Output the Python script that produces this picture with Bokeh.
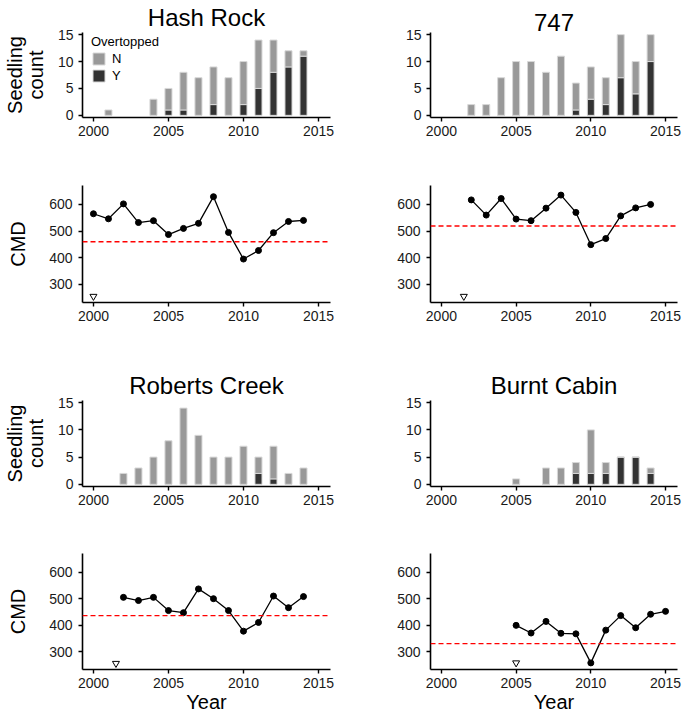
from bokeh.plotting import figure
from bokeh.layouts import column, row
from bokeh.models import Range1d, FixedTicker, Span, Legend, LegendItem, ColumnDataSource
from bokeh.embed import file_html
from bokeh.resources import INLINE

FONT = "Liberation Sans"

# ---------------- data ----------------
sites = ["Hash Rock", "747", "Roberts Creek", "Burnt Cabin"]

# seedling counts by year: N = not overtopped, Y = overtopped
hr_years = [2001, 2004, 2005, 2006, 2007, 2008, 2009, 2010, 2011, 2012, 2013, 2014]
hr_N = [1, 3, 4, 7, 7, 7, 7, 8, 9, 6, 3, 1]
hr_Y = [0, 0, 1, 1, 0, 2, 0, 2, 5, 8, 9, 11]

s747_years = [2002, 2003, 2004, 2005, 2006, 2007, 2008, 2009, 2010, 2011, 2012, 2013, 2014]
s747_N = [2, 2, 7, 10, 10, 8, 11, 5, 6, 5, 8, 6, 5]
s747_Y = [0, 0, 0, 0, 0, 0, 0, 1, 3, 2, 7, 4, 10]

rc_years = [2002, 2003, 2004, 2005, 2006, 2007, 2008, 2009, 2010, 2011, 2012, 2013, 2014]
rc_N = [2, 3, 5, 8, 14, 9, 5, 5, 7, 3, 6, 2, 3]
rc_Y = [0, 0, 0, 0, 0, 0, 0, 0, 0, 2, 1, 0, 0]

bc_years = [2005, 2007, 2008, 2009, 2010, 2011, 2012, 2013, 2014]
bc_N = [1, 3, 3, 2, 8, 2, 0, 0, 1]
bc_Y = [0, 0, 0, 2, 2, 2, 5, 5, 2]

# CMD by year
hr_cmd_years = list(range(2000, 2015))
hr_cmd = [565, 546, 602, 532, 539, 487, 510, 529, 629, 495, 395, 427, 494, 536, 540]
s747_cmd_years = list(range(2002, 2015))
s747_cmd = [617, 560, 622, 545, 539, 586, 635, 570, 449, 472, 557, 587, 600]
rc_cmd_years = list(range(2002, 2015))
rc_cmd = [505, 493, 505, 455, 447, 537, 500, 455, 377, 410, 510, 466, 508]
bc_cmd_years = list(range(2005, 2016))
bc_cmd = [399, 370, 414, 369, 367, 257, 381, 436, 390, 441, 452]

# reference (dashed) CMD levels
cmd_ref = [460, 519, 436, 330]
# triangle markers (year, CMD)
tri_x = [2000, 2001.5, 2001.5, 2005]
tri_y = [255, 255, 255, 257]

x_ticks = [2000, 2005, 2010, 2015]
bar_ticks = [0, 5, 10, 15]
cmd_ticks = [300, 400, 500, 600]

N_COLOR = "#999999"
Y_COLOR = "#333333"

bar_data = [(hr_years, hr_N, hr_Y), (s747_years, s747_N, s747_Y),
            (rc_years, rc_N, rc_Y), (bc_years, bc_N, bc_Y)]
cmd_data = [(hr_cmd_years, hr_cmd), (s747_cmd_years, s747_cmd),
            (rc_cmd_years, rc_cmd), (bc_cmd_years, bc_cmd)]

LW, LB_L, LB_R = 344, 82, 14
RW, RB_L, RB_R = 341, 86, 8


def style(p):
    p.xgrid.visible = False
    p.ygrid.visible = False
    p.outline_line_color = None
    p.background_fill_color = "white"
    p.border_fill_color = "white"
    for ax in (p.xaxis[0], p.yaxis[0]):
        ax.axis_line_width = 1.6
        ax.axis_line_color = "black"
        ax.major_tick_line_width = 1.4
        ax.major_tick_line_color = "black"
        ax.major_tick_in = 0
        ax.major_tick_out = 4
        ax.minor_tick_line_color = None
        ax.major_label_text_font = FONT
        ax.major_label_text_font_size = "14px"
        ax.major_label_text_color = "#1a1a1a"
        ax.axis_label_text_font = FONT
        ax.axis_label_text_font_size = "20px"
        ax.axis_label_text_font_style = "normal"
        ax.axis_label_text_color = "black"
    p.xaxis.major_label_standoff = 4
    p.yaxis.major_label_standoff = 6
    p.xaxis.ticker = FixedTicker(ticks=x_ticks)


def make_fig(left, height, top, bottom, y_range):
    return figure(width=LW if left else RW, height=height, output_backend="svg",
                  toolbar_location=None,
                  x_range=Range1d(1999.27, 2015.8), y_range=y_range,
                  min_border_left=LB_L if left else RB_L,
                  min_border_right=LB_R if left else RB_R,
                  min_border_top=top, min_border_bottom=bottom)


def make_bar(i, left, height, bottom):
    years, n, y = bar_data[i]
    p = make_fig(left, height, 0, bottom, Range1d(-0.4, 15.4))
    p.title.text = sites[i]
    p.title.align = "center"
    p.title.text_font = FONT
    p.title.text_font_size = "24px"
    p.title.text_font_style = "normal"
    p.title.text_color = "black"
    p.title.standoff = 3
    style(p)
    p.yaxis.ticker = FixedTicker(ticks=bar_ticks)
    p.yaxis.major_label_standoff = 5
    if left:
        p.yaxis.axis_label = "Seedling\ncount"
        p.yaxis.axis_label_text_line_height = 0.95
        p.yaxis.axis_label_standoff = 8
    src = ColumnDataSource(dict(year=years, Y=y, N=n))
    rs = p.vbar_stack(["Y", "N"], x="year", width=0.47, source=src,
                      fill_color=[Y_COLOR, N_COLOR], line_color="#d8d8d8", line_width=1)
    if i == 0:
        legend = Legend(items=[LegendItem(label="N", renderers=[rs[1]]),
                               LegendItem(label="Y", renderers=[rs[0]])],
                        title="Overtopped", location=(9, 34))
        legend.title_text_font = FONT
        legend.title_text_font_size = "13px"
        legend.title_text_font_style = "normal"
        legend.title_text_color = "black"
        legend.title_standoff = 2
        legend.label_text_font = FONT
        legend.label_text_font_size = "13px"
        legend.label_text_color = "black"
        legend.glyph_width = 15
        legend.glyph_height = 15
        legend.label_standoff = 6
        legend.spacing = 2
        legend.padding = 0
        legend.margin = 0
        legend.border_line_color = None
        legend.background_fill_alpha = 0
        p.add_layout(legend, "center")
    return p


def make_cmd(i, left, height, top, bottom, xlabel):
    years, vals = cmd_data[i]
    p = make_fig(left, height, top, bottom, Range1d(232, 671))
    style(p)
    p.yaxis.ticker = FixedTicker(ticks=cmd_ticks)
    if left:
        p.yaxis.axis_label = "CMD"
        p.yaxis.axis_label_standoff = 17
    if xlabel:
        p.xaxis.axis_label = "Year"
        p.xaxis.axis_label_standoff = 0
    p.add_layout(Span(location=cmd_ref[i], dimension="width", line_color="red",
                      line_dash="5 3", line_width=1.3))
    p.line(years, vals, line_color="black", line_width=1.3)
    p.scatter(years, vals, size=6, color="black")
    p.scatter([tri_x[i]], [tri_y[i]], marker="inverted_triangle", size=7,
              fill_color="white", line_color="black", line_width=1)
    return p


a1 = make_bar(0, True, 150, 33)
a2 = make_bar(1, False, 150, 33)
b1 = make_cmd(0, True, 218, 35, 66, False)
b2 = make_cmd(1, False, 218, 35, 66, False)
c1 = make_bar(2, True, 146, 28)
c2 = make_bar(3, False, 146, 28)
d1 = make_cmd(2, True, 201, 39, 45, True)
d2 = make_cmd(3, False, 201, 39, 45, True)

layout = column(row(a1, a2), row(b1, b2), row(c1, c2), row(d1, d2))

open("out.html", "w").write(file_html(layout, INLINE))
